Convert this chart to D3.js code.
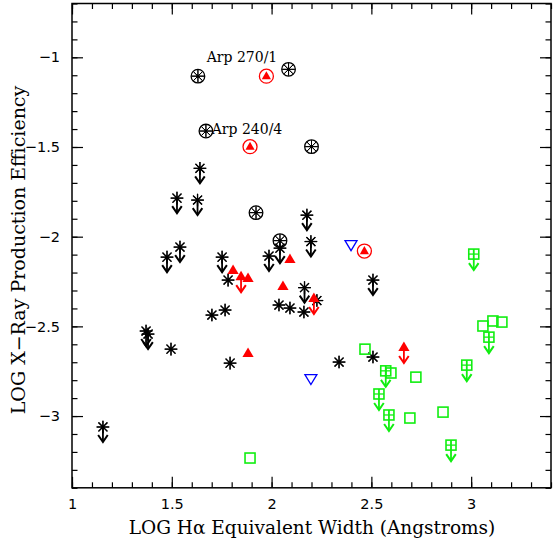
<!DOCTYPE html>
<html>
<head>
<meta charset="utf-8">
<script src="https://cdn.jsdelivr.net/npm/d3@7"></script>
<style>
  body { margin: 0; padding: 0; background: #fff; }
</style>
</head>
<body>
<script>
// detected galaxies (circled asterisk)
const detStar = [[1.631, -1.105], [2.085, -1.067], [1.671, -1.411], [2.200, -1.498], [1.922, -1.866], [2.042, -2.022]];
// upper limits (asterisk + arrow)
const limStar = [
  [1.641, -1.619], [1.526, -1.785], [1.629, -1.796], [1.476, -2.114], [1.541, -2.058],
  [1.752, -2.114], [1.987, -2.108], [2.177, -1.880], [2.197, -2.027], [2.042, -2.064],
  [2.165, -2.284], [2.508, -2.242], [1.371, -2.526], [1.381, -2.543], [1.155, -3.061]
];
// plain asterisks
const star = [
  [1.782, -2.242], [1.701, -2.437], [1.767, -2.409], [1.496, -2.627], [1.792, -2.705],
  [2.037, -2.381], [2.092, -2.398], [2.162, -2.420], [2.227, -2.356], [2.338, -2.699], [2.508, -2.671]
];
// red triangles
const redTri = [[1.807, -2.186], [1.882, -2.231], [2.092, -2.125], [2.057, -2.275], [1.882, -2.649]];
const redTriLim = [[1.847, -2.220], [2.212, -2.342], [2.663, -2.615]];
const redTriCirc = [[1.974, -1.105], [1.892, -1.498], [2.465, -2.080]];
// blue open triangles
const blueTri = [[2.398, -2.047], [2.197, -2.794]];
// green squares
const greenSq = [
  [2.468, -2.627], [2.598, -2.760], [2.723, -2.783], [2.693, -3.011], [2.859, -2.978],
  [3.059, -2.498], [3.109, -2.470], [3.154, -2.476], [1.892, -3.234]
];
const greenSqLim = [
  [2.572, -2.748], [2.538, -2.877], [2.588, -2.994], [2.899, -3.162],
  [2.978, -2.716], [3.013, -2.097], [3.089, -2.560]
];
// labels
const notes = [{ text: "Arp 270/1", x: 1.675, y: -1.025 }, { text: "Arp 240/4", x: 1.700, y: -1.428 }];

const xTicks = [1, 1.5, 2, 2.5, 3];
const yTicks = [-3, -2.5, -2, -1.5, -1];

const width = 558, height = 541;
const x = d3.scaleLinear().domain([1, 3.4]).range([72, 551]);
const y = d3.scaleLinear().domain([-3.4, -0.7]).range([487.8, 3.5]);

const svg = d3.select("body").append("svg")
  .attr("width", width)
  .attr("height", height)
  .style("font-family", "'DejaVu Sans', sans-serif");

const xMinor = d3.range(10, 35).map(d => d / 10);
const yMinor = d3.range(-34, -6).map(d => d / 10);
const fmt = d3.format("");

function axisGroup(axis, tx, ty) {
  const g = svg.append("g").attr("transform", `translate(${tx},${ty})`).call(axis);
  g.select(".domain").remove();
  g.selectAll("line").attr("stroke", "#000").attr("stroke-width", 1.2);
  return g;
}

// minor ticks, all four sides
axisGroup(d3.axisBottom(x).tickValues(xMinor).tickSize(-5.5).tickFormat(""), 0, y.range()[0]);
axisGroup(d3.axisTop(x).tickValues(xMinor).tickSize(-5.5).tickFormat(""), 0, y.range()[1]);
axisGroup(d3.axisLeft(y).tickValues(yMinor).tickSize(-5.5).tickFormat(""), x.range()[0], 0);
axisGroup(d3.axisRight(y).tickValues(yMinor).tickSize(-5.5).tickFormat(""), x.range()[1], 0);
// major ticks
axisGroup(d3.axisBottom(x).tickValues(xTicks).tickSize(-11).tickPadding(11).tickFormat(fmt), 0, y.range()[0]);
axisGroup(d3.axisTop(x).tickValues(xTicks).tickSize(-11).tickFormat(""), 0, y.range()[1]);
axisGroup(d3.axisLeft(y).tickValues(yTicks).tickSize(-11).tickPadding(12).tickFormat(fmt), x.range()[0], 0);
axisGroup(d3.axisRight(y).tickValues(yTicks).tickSize(-11).tickFormat(""), x.range()[1], 0);
svg.selectAll(".tick text").attr("font-size", 14.5).attr("fill", "#000").attr("font-family", "'DejaVu Sans', sans-serif");

// frame
svg.append("rect")
  .attr("x", x.range()[0]).attr("y", y.range()[1])
  .attr("width", x.range()[1] - x.range()[0])
  .attr("height", y.range()[0] - y.range()[1])
  .attr("fill", "none").attr("stroke", "#000").attr("stroke-width", 1.5);

// axis titles
svg.append("text")
  .attr("x", 312).attr("y", 534)
  .attr("text-anchor", "middle")
  .attr("font-family", "'DejaVu Serif', serif").attr("font-size", 18.5)
  .text("LOG H\u03b1 Equivalent Width (Angstroms)");
svg.append("text")
  .attr("transform", `translate(25,250) rotate(-90)`)
  .attr("text-anchor", "middle")
  .attr("font-family", "'DejaVu Serif', serif").attr("font-size", 19)
  .text("LOG X\u2212Ray Production Efficiency");

// marker helpers
const spokes = d3.range(8).map(i => i * Math.PI / 4);
function drawStar(g, r, sw) {
  g.selectAll(null).data(spokes).join("line")
    .attr("x1", a => -r * Math.cos(a)).attr("y1", a => -r * Math.sin(a))
    .attr("x2", a => r * Math.cos(a)).attr("y2", a => r * Math.sin(a))
    .attr("stroke", "#000").attr("stroke-width", sw);
  g.append("circle").attr("r", 1.6).attr("fill", "#000");
}
function drawArrow(g, color, top, len) {
  g.append("line").attr("x1", 0).attr("y1", top).attr("x2", 0).attr("y2", len)
    .attr("stroke", color).attr("stroke-width", 1.8);
  g.append("polyline").attr("points", `-4.8,${len - 7} 0,${len} 4.8,${len - 7}`)
    .attr("fill", "none").attr("stroke", color).attr("stroke-width", 2);
}
function place(data, cls) {
  return svg.append("g").attr("class", cls).selectAll("g").data(data).join("g")
    .attr("transform", d => `translate(${x(d[0])},${y(d[1])})`);
}

place(detStar, "det").each(function () {
  const g = d3.select(this);
  g.append("circle").attr("r", 6.8).attr("fill", "none").attr("stroke", "#000").attr("stroke-width", 1.3);
  drawStar(g, 6.3, 1);
});

place(limStar, "lim").each(function () {
  const g = d3.select(this);
  drawStar(g, 6.3, 1.2);
  drawArrow(g, "#000", 0, 15);
});

place(star, "star").each(function () {
  drawStar(d3.select(this), 6.3, 1.2);
});

const triUp = "0,-5.5 5.6,4 -5.6,4";
place(redTri, "rt").append("polygon").attr("points", triUp).attr("fill", "#ff0000");

place(redTriLim, "rtl").each(function () {
  const g = d3.select(this);
  drawArrow(g, "#ff0000", 0, 16);
  g.append("polygon").attr("points", triUp).attr("fill", "#ff0000");
});

place(redTriCirc, "rtc").each(function () {
  const g = d3.select(this);
  g.append("circle").attr("r", 7).attr("fill", "#fff").attr("stroke", "#ff0000").attr("stroke-width", 1.3);
  g.append("polygon").attr("points", "0,-5 4.6,3.2 -4.6,3.2").attr("fill", "#ff0000");
});

place(blueTri, "bt").append("polygon").attr("points", "-6,-4.5 6,-4.5 0,5.5")
  .attr("fill", "none").attr("stroke", "#0000ff").attr("stroke-width", 1.3);

const green = "#11ee11";
place(greenSq, "gs").append("rect").attr("x", -5).attr("y", -5).attr("width", 10).attr("height", 10)
  .attr("fill", "none").attr("stroke", green).attr("stroke-width", 1.6);

place(greenSqLim, "gsl").each(function () {
  const g = d3.select(this);
  g.append("rect").attr("x", -5).attr("y", -5).attr("width", 10).attr("height", 10)
    .attr("fill", "none").attr("stroke", green).attr("stroke-width", 1.6);
  g.append("line").attr("x1", -5).attr("x2", 5).attr("y1", 0).attr("y2", 0)
    .attr("stroke", green).attr("stroke-width", 1.3);
  drawArrow(g, green, -5, 16);
});

// annotations
svg.append("g").selectAll("text").data(notes).join("text")
  .attr("x", d => x(d.x)).attr("y", d => y(d.y))
  .attr("font-family", "'DejaVu Serif', serif").attr("font-size", 14)
  .attr("fill", "#000")
  .text(d => d.text);
</script>
</body>
</html>
